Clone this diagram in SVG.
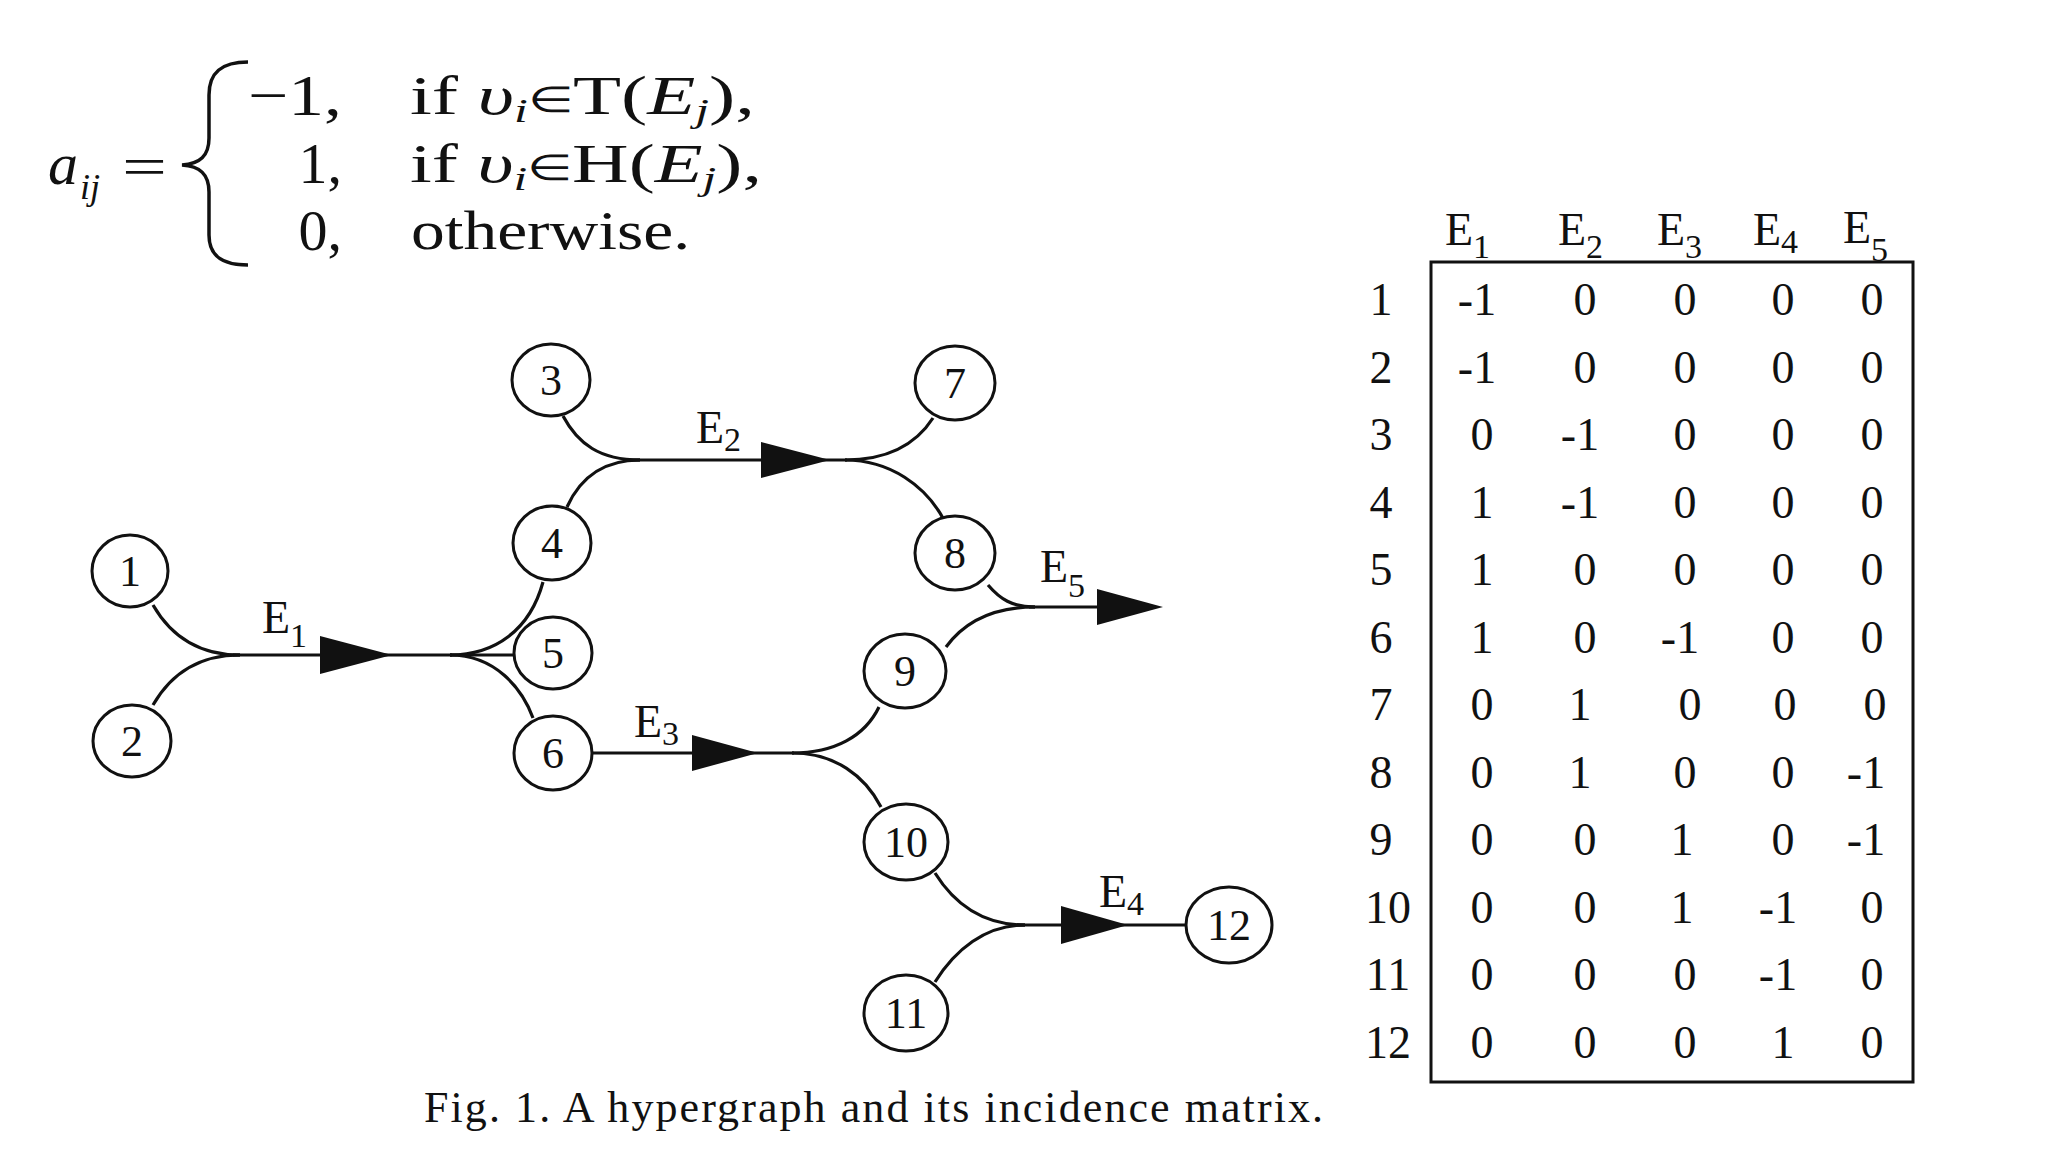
<svg xmlns="http://www.w3.org/2000/svg" width="2048" height="1152" viewBox="0 0 2048 1152">
<style>
text{font-family:"Liberation Serif","Times New Roman",serif;fill:#111}
.nd ellipse{fill:#fff;stroke:#111;stroke-width:3}
.nd text{font-size:44px;text-anchor:middle}
.cn path{fill:none;stroke:#111;stroke-width:3.2}
.cn polygon{fill:#111;stroke:none}
.el{font-size:46px}
.sub{font-size:34px}
.mx{font-size:46px;text-anchor:middle}
.hd{font-size:46px}
.fm{font-size:54px}
.it{font-style:italic}
</style>
<rect width="2048" height="1152" fill="#fff"/>
<g id="formula">
<text class="it" x="48" y="184" font-size="60">a</text>
<text class="it" x="80" y="199" font-size="36">ij</text>
<text class="fm" x="122" y="185" textLength="45" lengthAdjust="spacingAndGlyphs">=</text>
<path d="M248,62 C222,62 209,72 209,95 L209,138 C209,156 200,164 182,165 C200,166 209,174 209,192 L209,235 C209,256 222,265 248,265" fill="none" stroke="#111" stroke-width="3.5"/>
<text font-size="58" x="342" y="115" text-anchor="end" textLength="94" lengthAdjust="spacingAndGlyphs">−1,</text>
<text font-size="58" x="342" y="183" text-anchor="end">1,</text>
<text font-size="58" x="342" y="250" text-anchor="end">0,</text>
<text class="fm" x="410" y="114" textLength="345" lengthAdjust="spacingAndGlyphs">if  <tspan class="it">υ</tspan><tspan class="it" font-size="34" dy="8">i</tspan><tspan dy="-10" font-size="36">∈</tspan><tspan dy="2">T(</tspan><tspan class="it">E</tspan><tspan class="it" font-size="34" dy="8">j</tspan><tspan dy="-8">),</tspan></text>
<text class="fm" x="410" y="182" textLength="352" lengthAdjust="spacingAndGlyphs">if  <tspan class="it">υ</tspan><tspan class="it" font-size="34" dy="8">i</tspan><tspan dy="-10" font-size="36">∈</tspan><tspan dy="2">H(</tspan><tspan class="it">E</tspan><tspan class="it" font-size="34" dy="8">j</tspan><tspan dy="-8">),</tspan></text>
<text class="fm" x="411" y="249" textLength="279" lengthAdjust="spacingAndGlyphs">otherwise.</text>
</g>
<g id="connectors" class="cn">
<g id="E1">
<path d="M153,605 C172,638 200,655 240,655"/>
<path d="M153,705 C172,672 200,655 240,655"/>
<path d="M233,655 H452"/>
<polygon points="320,636 392,655 320,674"/>
<path d="M450,655 C495,655 530,630 543,582"/>
<path d="M450,655 H514"/>
<path d="M450,655 C495,655 522,688 533,718"/>
</g>
<g id="E2">
<path d="M563,416 C578,444 600,460 640,460"/>
<path d="M567,507 C580,478 602,460 640,460"/>
<path d="M630,460 H847"/>
<polygon points="761,442 830,460 761,478"/>
<path d="M845,460 C885,460 915,446 933,418"/>
<path d="M845,460 C890,460 926,486 944,520"/>
</g>
<g id="E3">
<path d="M592,753 H794"/>
<polygon points="692,735 758,753 692,771"/>
<path d="M792,753 C835,753 865,736 879,707"/>
<path d="M792,753 C835,753 865,776 881,807"/>
</g>
<g id="E4">
<path d="M935,873 C955,905 985,925 1025,925"/>
<path d="M935,982 C955,950 985,925 1025,925"/>
<path d="M1017,925 H1190"/>
<polygon points="1061,906 1128,925 1061,944"/>
</g>
<g id="E5">
<path d="M988,585 C1000,599 1012,607 1035,607"/>
<path d="M946,647 C965,621 995,607 1035,607"/>
<path d="M1029,607 H1100"/>
<polygon points="1097,589 1163,607 1097,625"/>
</g>
</g>
<g id="edge-labels">
<text class="el" x="262" y="633">E<tspan class="sub" dy="14">1</tspan></text>
<text class="el" x="696" y="443">E<tspan class="sub" dy="8">2</tspan></text>
<text class="el" x="634" y="737">E<tspan class="sub" dy="8">3</tspan></text>
<text class="el" x="1099" y="907">E<tspan class="sub" dy="8">4</tspan></text>
<text class="el" x="1040" y="582">E<tspan class="sub" dy="15">5</tspan></text>
</g>
<g id="n1" class="nd"><ellipse cx="130" cy="571" rx="38" ry="36"/><text x="130" y="586">1</text></g>
<g id="n2" class="nd"><ellipse cx="132" cy="741" rx="39" ry="36"/><text x="132" y="756">2</text></g>
<g id="n3" class="nd"><ellipse cx="551" cy="380" rx="39" ry="36"/><text x="551" y="395">3</text></g>
<g id="n4" class="nd"><ellipse cx="552" cy="543" rx="39" ry="37"/><text x="552" y="558">4</text></g>
<g id="n5" class="nd"><ellipse cx="553" cy="653" rx="39" ry="36"/><text x="553" y="668">5</text></g>
<g id="n6" class="nd"><ellipse cx="553" cy="753" rx="39" ry="37"/><text x="553" y="768">6</text></g>
<g id="n7" class="nd"><ellipse cx="955" cy="383" rx="40" ry="37"/><text x="955" y="398">7</text></g>
<g id="n8" class="nd"><ellipse cx="955" cy="553" rx="40" ry="37"/><text x="955" y="568">8</text></g>
<g id="n9" class="nd"><ellipse cx="905" cy="671" rx="41" ry="37"/><text x="905" y="686">9</text></g>
<g id="n10" class="nd"><ellipse cx="906" cy="842" rx="42" ry="38"/><text x="906" y="857">10</text></g>
<g id="n11" class="nd"><ellipse cx="906" cy="1013" rx="42" ry="38"/><text x="906" y="1028">11</text></g>
<g id="n12" class="nd"><ellipse cx="1229" cy="925" rx="43" ry="38"/><text x="1229" y="940">12</text></g>
<g id="matrix">
<rect x="1431" y="262" width="482" height="820" fill="none" stroke="#111" stroke-width="3"/>
<text class="hd" x="1445" y="245">E<tspan class="sub" dy="13">1</tspan></text>
<text class="hd" x="1558" y="245">E<tspan class="sub" dy="13">2</tspan></text>
<text class="hd" x="1657" y="245">E<tspan class="sub" dy="13">3</tspan></text>
<text class="hd" x="1753" y="245">E<tspan class="sub" dy="8">4</tspan></text>
<text class="hd" x="1843" y="243">E<tspan class="sub" dy="18">5</tspan></text>
<g class="mx">
<text x="1381" y="315">1</text><text x="1477" y="315">-1</text><text x="1585" y="315">0</text><text x="1685" y="315">0</text><text x="1783" y="315">0</text><text x="1872" y="315">0</text>
<text x="1381" y="383">2</text><text x="1477" y="383">-1</text><text x="1585" y="383">0</text><text x="1685" y="383">0</text><text x="1783" y="383">0</text><text x="1872" y="383">0</text>
<text x="1381" y="450">3</text><text x="1482" y="450">0</text><text x="1580" y="450">-1</text><text x="1685" y="450">0</text><text x="1783" y="450">0</text><text x="1872" y="450">0</text>
<text x="1381" y="518">4</text><text x="1482" y="518">1</text><text x="1580" y="518">-1</text><text x="1685" y="518">0</text><text x="1783" y="518">0</text><text x="1872" y="518">0</text>
<text x="1381" y="585">5</text><text x="1482" y="585">1</text><text x="1585" y="585">0</text><text x="1685" y="585">0</text><text x="1783" y="585">0</text><text x="1872" y="585">0</text>
<text x="1381" y="653">6</text><text x="1482" y="653">1</text><text x="1585" y="653">0</text><text x="1680" y="653">-1</text><text x="1783" y="653">0</text><text x="1872" y="653">0</text>
<text x="1381" y="720">7</text><text x="1482" y="720">0</text><text x="1580" y="720">1</text><text x="1690" y="720">0</text><text x="1785" y="720">0</text><text x="1875" y="720">0</text>
<text x="1381" y="788">8</text><text x="1482" y="788">0</text><text x="1580" y="788">1</text><text x="1685" y="788">0</text><text x="1783" y="788">0</text><text x="1866" y="788">-1</text>
<text x="1381" y="855">9</text><text x="1482" y="855">0</text><text x="1585" y="855">0</text><text x="1682" y="855">1</text><text x="1783" y="855">0</text><text x="1866" y="855">-1</text>
<text x="1388" y="923">10</text><text x="1482" y="923">0</text><text x="1585" y="923">0</text><text x="1682" y="923">1</text><text x="1778" y="923">-1</text><text x="1872" y="923">0</text>
<text x="1388" y="990">11</text><text x="1482" y="990">0</text><text x="1585" y="990">0</text><text x="1685" y="990">0</text><text x="1778" y="990">-1</text><text x="1872" y="990">0</text>
<text x="1388" y="1058">12</text><text x="1482" y="1058">0</text><text x="1585" y="1058">0</text><text x="1685" y="1058">0</text><text x="1783" y="1058">1</text><text x="1872" y="1058">0</text>
</g>
</g>
<text id="caption" x="424" y="1122" font-size="44" textLength="899" lengthAdjust="spacing">Fig. 1. A hypergraph and its incidence matrix.</text>
</svg>
